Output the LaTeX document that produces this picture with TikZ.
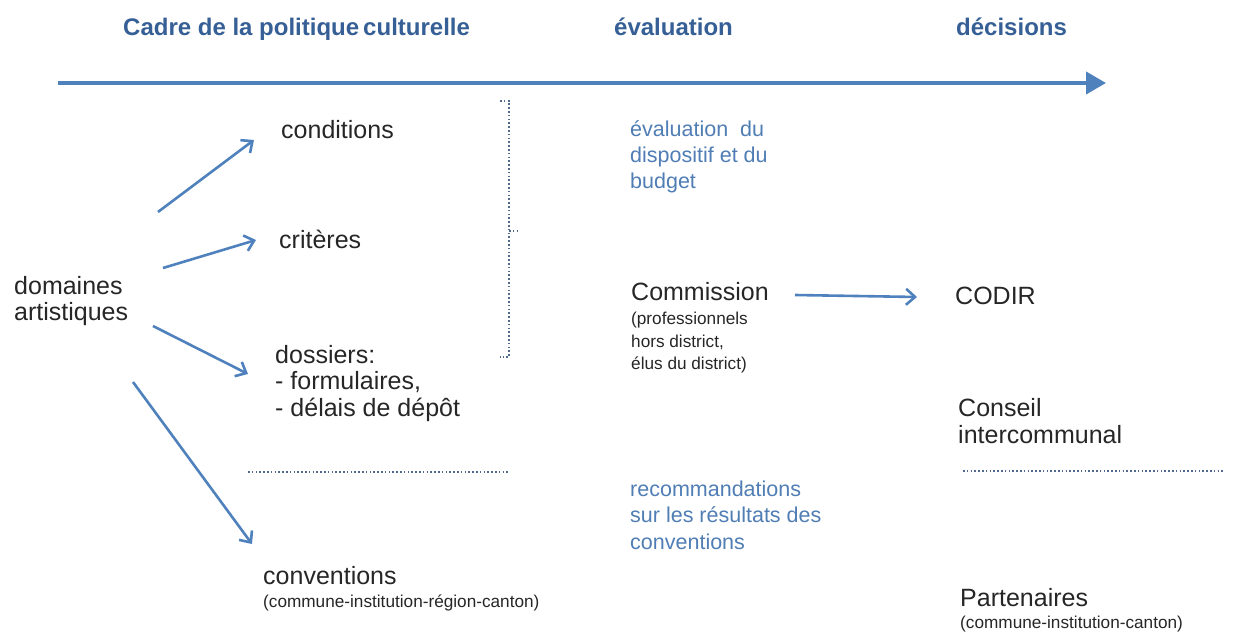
\documentclass[tikz,border=0pt]{standalone}
\usepackage{fontspec}
\setmainfont{Liberation Sans}
\usetikzlibrary{arrows.meta}
\definecolor{arrblue}{RGB}{79,129,189}
\definecolor{headblue}{RGB}{54,95,150}
\definecolor{txtblue}{RGB}{79,125,180}
\definecolor{dotcol}{RGB}{80,105,140}
\tikzset{
  lbl/.style={anchor=base west, inner sep=0pt, align=left, font=\fontsize{25}{26.5}\selectfont, text=black!85},
  small/.style={anchor=base west, inner sep=0pt, align=left, font=\fontsize{17.2}{23}\selectfont, text=black!85},
  bluetxt/.style={anchor=base west, inner sep=0pt, align=left, font=\fontsize{21.5}{26.3}\selectfont, text=txtblue},
  head/.style={anchor=base west, inner sep=0pt, font=\fontsize{24}{26}\selectfont\bfseries, text=headblue},
  arr/.style={draw=arrblue, line width=2.6pt, -{Straight Barb[length=9pt,width=16pt,line width=2.6pt]}},
  dots/.style={draw=dotcol, line width=1.6pt, dash pattern=on 1.6pt off 2.2pt}
}
\begin{document}
\begin{tikzpicture}[x=1pt,y=-1pt]
\useasboundingbox (0,0) rectangle (1245,636);
% headers
\node[head] (h1) at (123,36) {Cadre de la politique\,culturelle};
\node[head] (h2) at (614,36) {évaluation};
\node[head] (h3) at (956,36) {décisions};
% timeline
\coordinate (t0) at (58,83);
\coordinate (t1) at (1106,83);
\draw[draw=arrblue, line width=4pt, -{Triangle[length=20pt,width=22pt]}] (t0) -- (t1);
% left (multi-line nodes: base = last line)
\node[lbl] (dom) at (14,321) {domaines\\artistiques};
\node[lbl] (cond) at (281,139) {conditions};
\node[lbl] (crit) at (279,249) {critères};
\node[lbl] (doss) at (275,416) {dossiers:\\- formulaires,\\- délais de dépôt};
\node[lbl] (conv) at (263,584) {conventions};
\node[small] (convs) at (263,607) {(commune-institution-région-canton)};
% arrows from domaines
\coordinate (a1s) at (158,212); \coordinate (a1e) at (254,140);
\coordinate (a2s) at (163,268); \coordinate (a2e) at (256,240);
\coordinate (a3s) at (153,326); \coordinate (a3e) at (248,374);
\coordinate (a4s) at (133,382); \coordinate (a4e) at (252,544);
\draw[arr] (a1s) -- (a1e);
\draw[arr] (a2s) -- (a2e);
\draw[arr] (a3s) -- (a3e);
\draw[arr] (a4s) -- (a4e);
% bracket
\coordinate (b1) at (500,101); \coordinate (b2) at (509,101);
\coordinate (b3) at (509,357); \coordinate (b4) at (500,357);
\coordinate (bm) at (509,231); \coordinate (bm2) at (518,231);
\draw[dots] (b1) -- (b2) -- (b3) -- (b4);
\draw[dots] (bm) -- (bm2);
% separators
\coordinate (s1) at (248,472); \coordinate (s2) at (510,472);
\coordinate (s3) at (963,471); \coordinate (s4) at (1225,471);
\draw[dots] (s1) -- (s2);
\draw[dots] (s3) -- (s4);
% middle
\node[bluetxt] (ev) at (630,189) {évaluation\ \ du\\dispositif et du\\budget};
\node[lbl] (com) at (631,301) {Commission};
\node[small] (coms) at (631,370) {(professionnels\\hors district,\\élus du district)};
\node[bluetxt] (rec) at (630,549) {recommandations\\sur les résultats des\\conventions};
% right
\node[lbl] (codir) at (955,305) {CODIR};
\node[lbl] (cons) at (958,443) {Conseil\\intercommunal};
\node[lbl] (part) at (960,606) {Partenaires};
\node[small] (parts) at (960,628) {(commune-institution-canton)};
\coordinate (c1) at (795,295);
\coordinate (c2) at (917,297);
\draw[arr] (c1) -- (c2);
\end{tikzpicture}
\end{document}
